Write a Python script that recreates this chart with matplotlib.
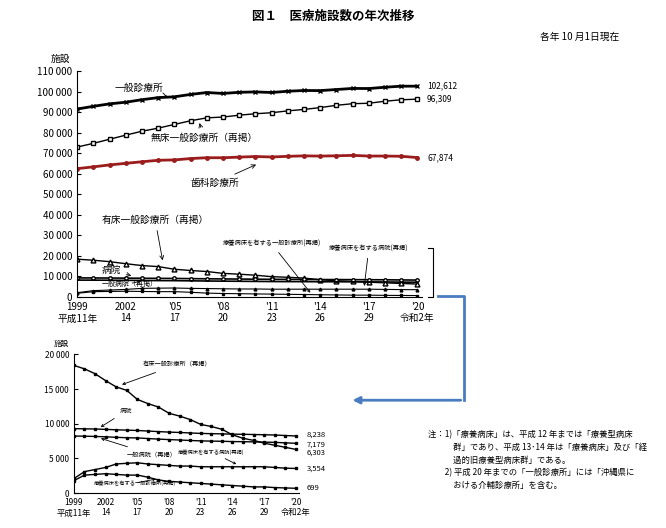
import numpy as np
import matplotlib.pyplot as plt
from matplotlib.patches import FancyArrowPatch

plt.rcParams["font.family"] = "Noto Sans CJK JP"

years = list(range(1999, 2021))
ippan = [91500, 92824, 94019, 94819, 96050, 97051, 97442, 98609, 99532, 99083, 99635,
         99824, 99547, 100152, 100528, 100461, 100995, 101529, 101471, 102105, 102616, 102612]
musho = [73000, 74800, 76800, 78800, 80700, 82200, 84000, 85800, 87200, 87600, 88500,
         89200, 89700, 90600, 91300, 92200, 93300, 94100, 94300, 95300, 96000, 96309]
shika = [62484, 63361, 64297, 65073, 65828, 66557, 66732, 67392, 67798, 67779, 68097,
         68384, 68156, 68474, 68701, 68592, 68737, 68940, 68609, 68613, 68500, 67874]
yusho = [18400, 17900, 17200, 16200, 15300, 14800, 13500, 12900, 12400, 11500, 11100,
         10600, 9900, 9600, 9200, 8400, 7900, 7600, 7200, 6900, 6600, 6303]
byoin = [9286, 9266, 9239, 9187, 9122, 9077, 9026, 8943, 8862, 8794, 8739,
         8670, 8605, 8565, 8540, 8493, 8480, 8442, 8412, 8372, 8300, 8238]
ippan_byoin = [8222, 8205, 8167, 8116, 8037, 7985, 7952, 7866, 7785, 7714, 7655,
               7587, 7528, 7493, 7474, 7426, 7416, 7380, 7353, 7314, 7246, 7179]
ryoyo_byoin = [2100, 3100, 3400, 3700, 4200, 4300, 4374, 4200, 4100, 4000, 3900,
               3900, 3800, 3800, 3800, 3800, 3800, 3800, 3800, 3700, 3600, 3554]
ryoyo_shin = [1800, 2600, 2700, 2800, 2700, 2600, 2600, 2300, 1900, 1700, 1600,
              1500, 1400, 1300, 1200, 1100, 1000, 900, 900, 800, 750, 699]

xticks = [1999, 2002, 2005, 2008, 2011, 2014, 2017, 2020]
xlabels = ["1999\n平成11年", "2002\n14", "'05\n17", "'08\n20", "'11\n23", "'14\n26", "'17\n29", "'20\n令和2年"]


def fmt(v):
    return f"{v:,}".replace(",", " ") if v else "0"


def style_ax(ax, ymax, step, fs):
    ax.set_xlim(1999, 2020.3)
    ax.set_ylim(0, ymax)
    ax.set_yticks(range(0, ymax + 1, step))
    ax.set_yticklabels([fmt(v) for v in range(0, ymax + 1, step)], fontsize=fs)
    ax.set_xticks(xticks)
    ax.set_xticklabels(xlabels, fontsize=fs)
    for s in ["top", "right"]:
        ax.spines[s].set_visible(False)
    ax.tick_params(axis="x", length=0)
    ax.tick_params(axis="y", direction="in", length=3)


fig = plt.figure(figsize=(6.66, 5.28), dpi=100)
fig.text(0.5, 0.963, "図１　医療施設数の年次推移", ha="center", fontsize=9, weight="bold")
fig.text(0.93, 0.925, "各年 10 月1日現在", ha="right", fontsize=7)

ax = fig.add_axes([0.116, 0.4375, 0.518, 0.428])
style_ax(ax, 110000, 10000, 7)
ax.text(-0.02, 1.04, "施設", transform=ax.transAxes, ha="right", fontsize=7)
ax.plot(years, ippan, "k-x", lw=2, ms=3.5)
ax.plot(years, musho, "k-s", lw=1, ms=3.5, mfc="white")
ax.plot(years, shika, "-o", color="#9b1c1c", lw=2, ms=2.5)
ax.plot(years, yusho, "k-^", lw=1, ms=3.5, mfc="white")
ax.plot(years, byoin, "k-o", lw=1.2, ms=2.5, mfc="white")
ax.plot(years, ippan_byoin, "k-", lw=1.2)
ax.plot(years, ryoyo_byoin, "k-^", lw=0.8, ms=2)
ax.plot(years, ryoyo_shin, "k-s", lw=0.8, ms=1.5)
for v in [ippan[-1], musho[-1], shika[-1]]:
    ax.text(2020.6, v, f"{v:,}", fontsize=6, va="center")
arr = dict(arrowstyle="->", lw=0.6, color="k")
ax.annotate("一般診療所", xy=(2004.7, 97300), xytext=(2001.3, 100500), fontsize=7, arrowprops=arr)
ax.annotate("無床一般診療所（再掲）", xy=(2006.5, 86000), xytext=(2003.5, 76000), fontsize=7, arrowprops=arr)
ax.annotate("歯科診療所", xy=(2010.2, 65000), xytext=(2007.5, 54000), fontsize=7, ha="center", arrowprops=arr)
ax.annotate("有床一般診療所（再掲）", xy=(2004.3, 16500), xytext=(2000.5, 36000), fontsize=7, arrowprops=arr)
ax.annotate("病院", xy=(2002.5, 10000), xytext=(2000.5, 11500), fontsize=7, arrowprops=arr)
ax.annotate("一般病院（再掲）", xy=(2003.1, 8000), xytext=(2000.5, 5500), fontsize=5, arrowprops=arr)
ax.annotate("療養病床を有する一般診療所(再掲)", xy=(2013.5, 1000), xytext=(2011, 25000), fontsize=4.5, ha="center", arrowprops=arr)
ax.annotate("療養病床を有する病院(再掲)", xy=(2016.7, 4000), xytext=(2017, 22500), fontsize=4.5, ha="center", arrowprops=arr)

ax2 = fig.add_axes([0.111, 0.066, 0.338, 0.263])
style_ax(ax2, 20000, 5000, 6)
ax2.text(-0.02, 1.06, "施設", transform=ax2.transAxes, ha="right", fontsize=5.5)
for s in [yusho, byoin, ippan_byoin, ryoyo_byoin, ryoyo_shin]:
    ax2.plot(years, s, "k-s", lw=1, ms=1.8)
for v, y in [(8238, 8400), (7179, 7050), (6303, 5800), (3554, 3554), (699, 699)]:
    ax2.text(2021, y, f"{v:,}", fontsize=5.5, va="center")
ax2.annotate("有床一般診療所（再掲）", xy=(2003.3, 15500), xytext=(2005.5, 18200), fontsize=4.5, arrowprops=arr)
ax2.annotate("病院", xy=(2001.3, 9300), xytext=(2003.3, 11500), fontsize=4.5, arrowprops=arr)
ax2.annotate("一般病院（再掲）", xy=(2001.3, 8000), xytext=(2004, 5300), fontsize=4.5, arrowprops=arr)
ax2.annotate("療養病床を有する病院(再掲)", xy=(2014.6, 4000), xytext=(2012, 5700), fontsize=3.8, ha="center", arrowprops=arr)
ax2.annotate("療養病床を有する一般診療所(再掲)", xy=(2007, 2100), xytext=(2004.8, 1200), fontsize=3.8, ha="center", arrowprops=arr)

# bracket and connecting arrow
fig.add_artist(plt.Line2D([0.643, 0.650, 0.650, 0.643], [0.438, 0.438, 0.530, 0.530],
                          transform=fig.transFigure, color="k", lw=0.8))
fig.add_artist(plt.Line2D([0.658, 0.696, 0.696], [0.440, 0.440, 0.242],
                          transform=fig.transFigure, color="#4a7cc0", lw=2))
fig.add_artist(FancyArrowPatch((0.696, 0.242), (0.525, 0.242), transform=fig.transFigure,
                               arrowstyle="-|>", mutation_scale=10, color="#4a7cc0", lw=2))

notes = ("注：1)「療養病床」は、平成 12 年までは「療養型病床\n"
         "　　　群」であり、平成 13･14 年は「療養病床」及び「経\n"
         "　　　過的旧療養型病床群」である。\n"
         "　　2) 平成 20 年までの「一般診療所」には「沖縄県に\n"
         "　　　おける介輔診療所」を含む。")
fig.text(0.642, 0.185, notes, fontsize=6, va="top", linespacing=1.5)

fig.savefig("out.png")
